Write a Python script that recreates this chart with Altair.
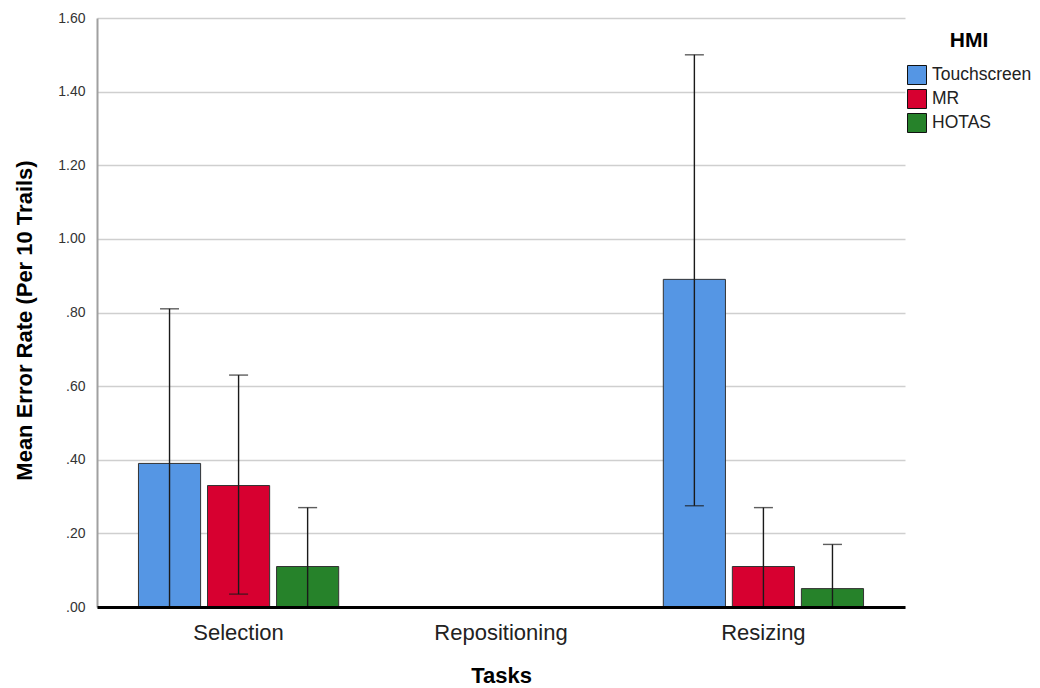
import altair as alt
import pandas as pd

tasks = ["Selection", "Repositioning", "Resizing"]
hmi = ["Touchscreen", "MR", "HOTAS"]
colors = ["#5596e4", "#d70030", "#26822a"]

# values (Repositioning has no bars)
bar_task = ["Selection", "Selection", "Selection", "Resizing", "Resizing", "Resizing"]
bar_hmi = ["Touchscreen", "MR", "HOTAS", "Touchscreen", "MR", "HOTAS"]
mean_rate = [0.39, 0.33, 0.11, 0.89, 0.11, 0.05]
ci_upper = [0.81, 0.63, 0.27, 1.50, 0.27, 0.17]
ci_lower = [-0.03, 0.035, -0.05, 0.275, -0.05, -0.07]
y_ticks = [0.0, 0.2, 0.4, 0.6, 0.8, 1.0, 1.2, 1.4, 1.6]

df = pd.DataFrame({
    "task": bar_task,
    "hmi": bar_hmi,
    "mean": mean_rate,
    "upper": ci_upper,
    "lower": ci_lower,
})

FONT = "Liberation Sans"
x_scale = alt.Scale(domain=tasks, paddingInner=0.237, paddingOuter=0.158)

x_enc = alt.X(
    "task:N",
    scale=x_scale,
    axis=alt.Axis(
        title="Tasks", labelAngle=0, labelFontSize=22, labelColor="#222222",
        labelFont=FONT, labelPadding=15, ticks=False, tickSize=0,
        domainColor="#000000", domainWidth=3, grid=False, zindex=2,
        titleFont=FONT, titleFontSize=22, titleFontWeight="bold",
        titleColor="#000000", titlePadding=22,
    ),
)
xoff_enc = alt.XOffset("hmi:N", scale=alt.Scale(domain=hmi, paddingInner=0.1, paddingOuter=0))
y_scale = alt.Scale(domain=[0, 1.6], nice=False, zero=True)

bars = alt.Chart(df).mark_bar(stroke="#333333", strokeWidth=1).encode(
    x=x_enc,
    xOffset=xoff_enc,
    y=alt.Y(
        "mean:Q", scale=y_scale,
        axis=alt.Axis(
            values=y_ticks,
            labelExpr="datum.value < 1 ? substring(format(datum.value, '.2f'), 1) : format(datum.value, '.2f')",
            labelFontSize=14, labelFont=FONT, labelColor="#333333", labelPadding=12,
            ticks=False, tickSize=0, domainColor="#a0a0a0", domainWidth=2,
            grid=True, gridColor="#cfcfcf", gridWidth=1.5,
            title="Mean Error Rate (Per 10 Trails)", titleFont=FONT, titleFontSize=22,
            titleFontWeight="bold", titleColor="#000000",
            titleX=-73, titleY=302, titleBaseline="middle", titleAngle=-90,
        ),
    ),
    color=alt.Color(
        "hmi:N", scale=alt.Scale(domain=hmi, range=colors),
        legend=alt.Legend(
            title="HMI", orient="none", legendX=810, legendY=12,
            titleFont=FONT, titleFontSize=21, titleFontWeight="bold",
            titleColor="#000000", titleAnchor="middle", titlePadding=14,
            labelFont=FONT, labelFontSize=17.5, labelColor="#222222", labelOffset=5,
            symbolType="square", symbolSize=361, symbolStrokeColor="#111111",
            symbolStrokeWidth=1, symbolOpacity=1, rowPadding=0, padding=0,
        ),
    ),
)

err = alt.Chart(df).mark_rule(color="#1a1a1a", strokeWidth=1.4, clip=True).encode(
    x=alt.X("task:N", scale=x_scale),
    xOffset=xoff_enc,
    y=alt.Y("lower:Q", scale=y_scale),
    y2="upper:Q",
)
cap_hi = alt.Chart(df).mark_tick(color="#1a1a1a", thickness=1.4, size=19, orient="horizontal", clip=True).encode(
    x=alt.X("task:N", scale=x_scale),
    xOffset=xoff_enc,
    y=alt.Y("upper:Q", scale=y_scale),
)
cap_lo = alt.Chart(df).mark_tick(color="#1a1a1a", thickness=1.4, size=19, orient="horizontal", clip=True).encode(
    x=alt.X("task:N", scale=x_scale),
    xOffset=xoff_enc,
    y=alt.Y("lower:Q", scale=y_scale),
)

chart = alt.layer(bars, err, cap_hi, cap_lo).properties(
    width=808, height=589,
    autosize=alt.AutoSizeParams(type="none"),
    padding={"left": 89, "top": 10, "right": 127, "bottom": 80},
    background="white",
).configure_view(stroke=None, strokeWidth=0)

chart.save("out.html", embed_options={"renderer": "svg", "actions": False})
